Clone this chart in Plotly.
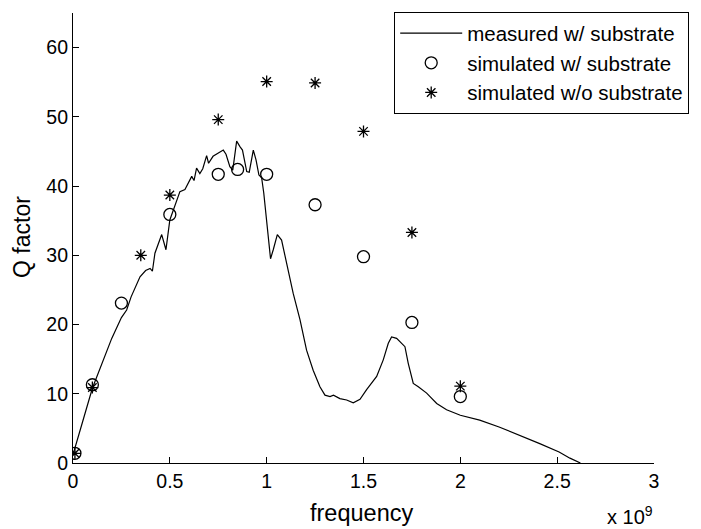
import plotly.graph_objects as go

# frequency in units of 1e9 Hz
meas_f = [0.0, 0.02, 0.05, 0.1, 0.15, 0.2, 0.25, 0.277, 0.30, 0.346, 0.375, 0.398, 0.41, 0.423,
          0.458, 0.48, 0.50, 0.527, 0.552, 0.578, 0.595, 0.613, 0.625, 0.638, 0.655, 0.67, 0.69,
          0.70, 0.723, 0.75, 0.776, 0.79, 0.81, 0.825, 0.845, 0.862, 0.875, 0.897, 0.91, 0.931,
          0.945, 0.96, 0.974, 0.985, 1.0, 1.02, 1.034, 1.055, 1.077, 1.103, 1.137, 1.172, 1.206,
          1.24, 1.275, 1.301, 1.327, 1.345, 1.378, 1.413, 1.447, 1.482, 1.516, 1.568, 1.602,
          1.628, 1.645, 1.671, 1.714, 1.731, 1.757, 1.783, 1.826, 1.878, 1.929, 2.0, 2.1, 2.2,
          2.31, 2.41, 2.51, 2.566, 2.62]
meas_q = [1.2, 3.0, 6.0, 10.8, 14.5, 18.0, 21.0, 22.1, 24.0, 26.9, 27.8, 28.1, 27.7, 30.3,
          33.0, 30.8, 35.1, 37.3, 39.2, 39.5, 40.5, 41.4, 40.8, 42.6, 41.8, 42.5, 44.4,
          43.3, 44.3, 44.8, 45.2, 44.6, 42.8, 42.3, 46.5, 45.7, 45.2, 42.1, 42.0, 45.2,
          43.8, 41.6, 41.2, 39.0, 34.7, 29.5, 30.8, 33.0, 32.2, 29.0, 24.5, 20.7, 16.3,
          13.4, 11.0, 9.8, 9.6, 9.8, 9.3, 9.1, 8.7, 9.2, 10.6, 12.5, 14.9,
          17.3, 18.2, 18.0, 16.8, 14.4, 11.5, 11.0, 10.1, 8.6, 7.7, 6.9, 6.2, 5.2,
          4.0, 2.8, 1.6, 0.7, 0.0]

sim_sub_f = [0.01, 0.1, 0.25, 0.5, 0.75, 0.85, 1.0, 1.25, 1.5, 1.75, 2.0]
sim_sub_q = [1.4, 11.3, 23.1, 35.9, 41.7, 42.4, 41.7, 37.3, 29.8, 20.3, 9.6]

sim_nosub_f = [0.01, 0.1, 0.35, 0.5, 0.75, 1.0, 1.25, 1.5, 1.75, 2.0]
sim_nosub_q = [1.4, 10.9, 30.0, 38.7, 49.6, 55.1, 54.9, 47.9, 33.3, 11.1]

x_ticks = [0, 0.5, 1, 1.5, 2, 2.5, 3]
x_ticktext = ["0", "0.5", "1", "1.5", "2", "2.5", "3"]
y_ticks = [0, 10, 20, 30, 40, 50, 60]

FONT = "Liberation Sans, Arial, Helvetica, sans-serif"

fig = go.Figure()
fig.add_trace(go.Scatter(x=meas_f, y=meas_q, mode="lines", name="measured w/ substrate",
                         line=dict(color="black", width=1.2)))
fig.add_trace(go.Scatter(x=sim_sub_f, y=sim_sub_q, mode="markers", name="simulated w/ substrate",
                         marker=dict(symbol="circle-open", size=12, color="black",
                                     line=dict(width=1.3, color="black"))))
fig.add_trace(go.Scatter(x=sim_nosub_f, y=sim_nosub_q, mode="markers", name="simulated w/o substrate",
                         marker=dict(symbol="asterisk-open", size=10, color="black",
                                     line=dict(width=1.3, color="black"))))

axis_common = dict(showline=True, linecolor="black", linewidth=1.2, mirror=False,
                   ticks="inside", ticklen=6, tickcolor="black", tickwidth=1,
                   showgrid=False, zeroline=False,
                   tickfont=dict(family=FONT, size=19.5, color="black"))

fig.update_xaxes(range=[0, 3], tickvals=x_ticks, ticktext=x_ticktext, **axis_common)
fig.update_yaxes(range=[0, 65], tickvals=y_ticks, **axis_common)

# page body adds an 8px offset, so the figure is sized to fill the remaining window
fig.update_layout(
    width=693, height=521,
    margin=dict(l=65, r=47, t=5, b=66, autoexpand=False),
    paper_bgcolor="white", plot_bgcolor="white",
    font=dict(family=FONT, color="black"),
    showlegend=True,
    legend=dict(x=0.5525, y=1.002, xanchor="left", yanchor="top",
                bordercolor="black", borderwidth=1.2, bgcolor="white",
                font=dict(family=FONT, size=20.5, color="black"),
                itemwidth=62, tracegroupgap=0),
    annotations=[
        dict(text="frequency", xref="paper", yref="paper", x=0.497, y=-0.111,
             xanchor="center", yanchor="middle", showarrow=False,
             font=dict(family=FONT, size=23.5, color="black")),
        dict(text="Q factor", xref="paper", yref="paper", x=-0.089, y=0.503,
             xanchor="center", yanchor="middle", textangle=-90, showarrow=False,
             font=dict(family=FONT, size=23, color="black")),
        dict(text="x 10<sup>9</sup>", xref="paper", yref="paper", x=1.002, y=-0.1156,
             xanchor="right", yanchor="middle", showarrow=False,
             font=dict(family=FONT, size=20, color="black")),
    ],
)

fig.write_html("out.html")
